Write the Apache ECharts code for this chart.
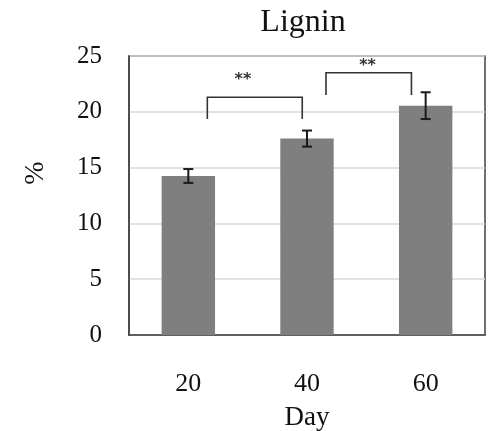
<!DOCTYPE html>
<html>
<head>
<meta charset="utf-8">
<script src="https://cdn.jsdelivr.net/npm/echarts@6/dist/echarts.min.js"></script>
<style>html,body{margin:0;padding:0;background:#fff;}#c{width:490px;height:431px;}</style>
</head>
<body>
<div id="c"></div>
<script>
const categories = ['20', '40', '60'];
const lignin = [14.25, 17.6, 20.55];
const errors = [0.62, 0.72, 1.2];
// brackets: [xStart, xEnd, yTop, yLeftEnd, yRightEnd] on a 0..3 category-span scale
const brackets = [
  [0.66, 1.46, 21.3, 19.35, 19.35],
  [1.66, 2.38, 23.5, 21.5, 21.5]
];
const stars = [
  [0.96, 22.9, '**'],
  [2.01, 24.1, '**']
];

const FONT = 'Liberation Serif';
const chart = echarts.init(document.getElementById('c'), null, {renderer: 'canvas'});
chart.setOption({
  animation: false,
  backgroundColor: '#fff',
  title: {
    text: 'Lignin', left: 298, top: 2, textAlign: 'center',
    textStyle: {fontFamily: FONT, fontSize: 32, fontWeight: 'normal', color: '#111'}
  },
  graphic: [{
    type: 'text', x: 36, y: 173, rotation: Math.PI / 2,
    style: {text: '%', fontFamily: FONT, fontSize: 28, fill: '#111', align: 'center', verticalAlign: 'middle'}
  }],
  grid: {left: 129, right: 5, top: 56, bottom: 96, outerBoundsMode: 'none', containLabel: false,
    show: true, borderColor: '#404040', borderWidth: 1.5, backgroundColor: 'transparent'},
  xAxis: [{
    type: 'category', data: categories,
    axisTick: {show: false},
    axisLine: {show: true, lineStyle: {color: '#404040', width: 1.5}},
    axisLabel: {fontFamily: FONT, fontSize: 26, color: '#111', margin: 36},
    name: 'Day', nameLocation: 'middle', nameGap: 69,
    nameTextStyle: {fontFamily: FONT, fontSize: 27, color: '#111'}
  }, {
    type: 'value', min: 0, max: 3, show: false
  }],
  yAxis: {
    type: 'value', min: 0, max: 25, interval: 5,
    axisLine: {show: true, lineStyle: {color: '#404040', width: 1.5}},
    axisTick: {show: false},
    splitLine: {show: true, lineStyle: {color: '#d9d9d9', width: 1.5}},
    axisLabel: {fontFamily: FONT, fontSize: 25, color: '#111', margin: 27}
  },
  series: [{
    type: 'bar', data: lignin, barWidth: '45%', xAxisIndex: 0,
    itemStyle: {color: '#7f7f7f'}
  }, {
    type: 'custom', xAxisIndex: 0, z: 5,
    data: lignin.map((v, i) => [i, v, errors[i]]),
    renderItem: function (params, api) {
      const x = api.value(0), v = api.value(1), e = api.value(2);
      const hi = api.coord([x, v + e]);
      const lo = api.coord([x, v - e]);
      const w = 5;
      const st = {stroke: '#1a1a1a', lineWidth: 2};
      return {type: 'group', children: [
        {type: 'line', shape: {x1: hi[0], y1: hi[1], x2: lo[0], y2: lo[1]}, style: st},
        {type: 'line', shape: {x1: hi[0] - w, y1: hi[1], x2: hi[0] + w, y2: hi[1]}, style: st},
        {type: 'line', shape: {x1: lo[0] - w, y1: lo[1], x2: lo[0] + w, y2: lo[1]}, style: st}
      ]};
    }
  }, {
    type: 'custom', xAxisIndex: 1, z: 5,
    data: brackets,
    renderItem: function (params, api) {
      const a = api.coord([api.value(0), api.value(3)]);
      const b = api.coord([api.value(0), api.value(2)]);
      const c = api.coord([api.value(1), api.value(2)]);
      const d = api.coord([api.value(1), api.value(4)]);
      return {type: 'polyline', shape: {points: [a, b, c, d]},
        style: {stroke: '#333', lineWidth: 1.6, fill: null}};
    }
  }, {
    type: 'custom', xAxisIndex: 1, z: 6,
    data: stars,
    renderItem: function (params, api) {
      const p = api.coord([api.value(0), api.value(1)]);
      return {type: 'text', x: p[0], y: p[1],
        style: {text: stars[params.dataIndex][2], fontFamily: 'DejaVu Sans', fontSize: 16, fontWeight: 'bold',
          fill: '#333', align: 'center', verticalAlign: 'middle'}};
    }
  }]
});
</script>
</body>
</html>
